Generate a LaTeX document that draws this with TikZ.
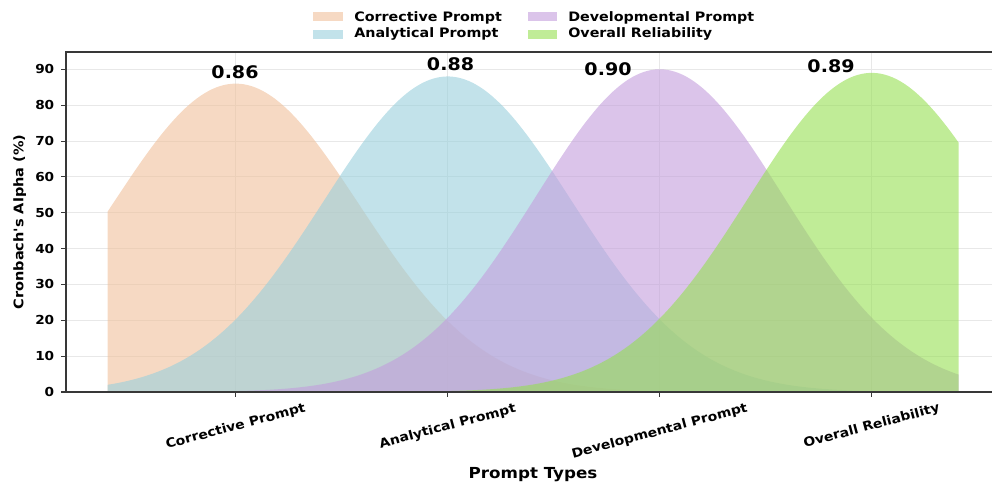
\documentclass[tikz,border=0pt]{standalone}
\usepackage{fontspec}
\setmainfont{DejaVu Sans}[FakeStretch=1.1, Ligatures=TeXOff]
\newcommand\fsz[1]{\fontsize{#1}{#1}\selectfont\bfseries}
\definecolor{cCor}{RGB}{240,192,155}
\definecolor{cAna}{RGB}{153,207,220}
\definecolor{cDev}{RGB}{195,157,220}
\definecolor{cOve}{RGB}{150,223,82}
\begin{document}
\begin{tikzpicture}[x=0.75pt,y=-0.75pt,
  declare function={gs(\t,\c,\a)=392-3.585*\a*exp(max(-9,-0.5*((\t-\c)/123.7)^2));},
  spine/.style={draw=black!78, line width=1.1pt},
  gridl/.style={draw=black!9, line width=0.6pt},
  tk/.style={draw=black!78, line width=0.8pt},
  area/.style={fill opacity=0.6, draw=none},
  ytl/.style={anchor=east, font=\fsz{9.3}, inner sep=0pt},
  xtl/.style={rotate=15, font=\fsz{9.5}, inner sep=0pt},
  val/.style={font=\fsz{13}, inner sep=0pt},
  legtxt/.style={anchor=base west, font=\fsz{9.75}, inner sep=0pt},
  axlbl/.style={font=\fsz{11.4}, inner sep=0pt}]
\useasboundingbox (0,0) rectangle (992,484);
% grid
\foreach \v in {1,...,9}
  \draw[gridl] (66,{392-35.85*\v}) -- (992,{392-35.85*\v});
\foreach \cx in {235.7,447.7,659.7,871.7}
  \draw[gridl] (\cx,52) -- (\cx,392);
% areas
\fill[area, fill=cCor] plot[domain=107.5:958.5, samples=220] (\x,{gs(\x,235.7,86)}) -- (958.5,392) -- (107.5,392) -- cycle;
\fill[area, fill=cAna] plot[domain=107.5:958.5, samples=220] (\x,{gs(\x,447.7,88)}) -- (958.5,392) -- (107.5,392) -- cycle;
\fill[area, fill=cDev] plot[domain=107.5:958.5, samples=220] (\x,{gs(\x,659.7,90)}) -- (958.5,392) -- (107.5,392) -- cycle;
\fill[area, fill=cOve] plot[domain=107.5:958.5, samples=220] (\x,{gs(\x,871.7,89)}) -- (958.5,392) -- (107.5,392) -- cycle;
% spines
\draw[spine] (992,52) -- (66,52) -- (66,392) -- (992,392);
% y ticks
\foreach \v in {0,...,9}{
  \pgfmathtruncatemacro\lab{10*\v}
  \draw[tk] (61,{392-35.85*\v}) -- (66,{392-35.85*\v});
  \node[ytl] (yt\v) at (54.5,{392-35.85*\v}) {\lab};
}
% x ticks
\foreach \cx in {235.7,447.7,659.7,871.7}
  \draw[tk] (\cx,392) -- (\cx,397);
\node[xtl] (xt1) at (235.7,426.8) {Corrective Prompt};
\node[xtl] (xt2) at (447.7,426.8) {Analytical Prompt};
\node[xtl] (xt3) at (659.7,431.6) {Developmental Prompt};
\node[xtl] (xt4) at (871.7,426.3) {Overall Reliability};
% value labels
\node[val] (v1) at (235,72.5) {0.86};
\node[val] (v2) at (450.5,63.7) {0.88};
\node[val] (v3) at (608,69.3) {0.90};
\node[val] (v4) at (831,65.9) {0.89};
% axis labels
\node[axlbl] (xl) at (533,475) {Prompt Types};
\node[axlbl, rotate=90, font=\fsz{9.9}] (yl) at (19.7,222) {Cronbach's Alpha (\%)};
% legend
\fill[area, fill=cCor] (313,12.3) rectangle (343,21);
\fill[area, fill=cAna] (313,30) rectangle (343,38.7);
\fill[area, fill=cDev] (528,12.3) rectangle (557,21);
\fill[area, fill=cOve] (528,30) rectangle (557,38.7);
\node[legtxt] (l1) at (354,21.7) {Corrective Prompt};
\node[legtxt] (l2) at (354,37.7) {Analytical Prompt};
\node[legtxt] (l3) at (568,21.7) {Developmental Prompt};
\node[legtxt] (l4) at (568,37.7) {Overall Reliability};
\end{tikzpicture}
\end{document}
